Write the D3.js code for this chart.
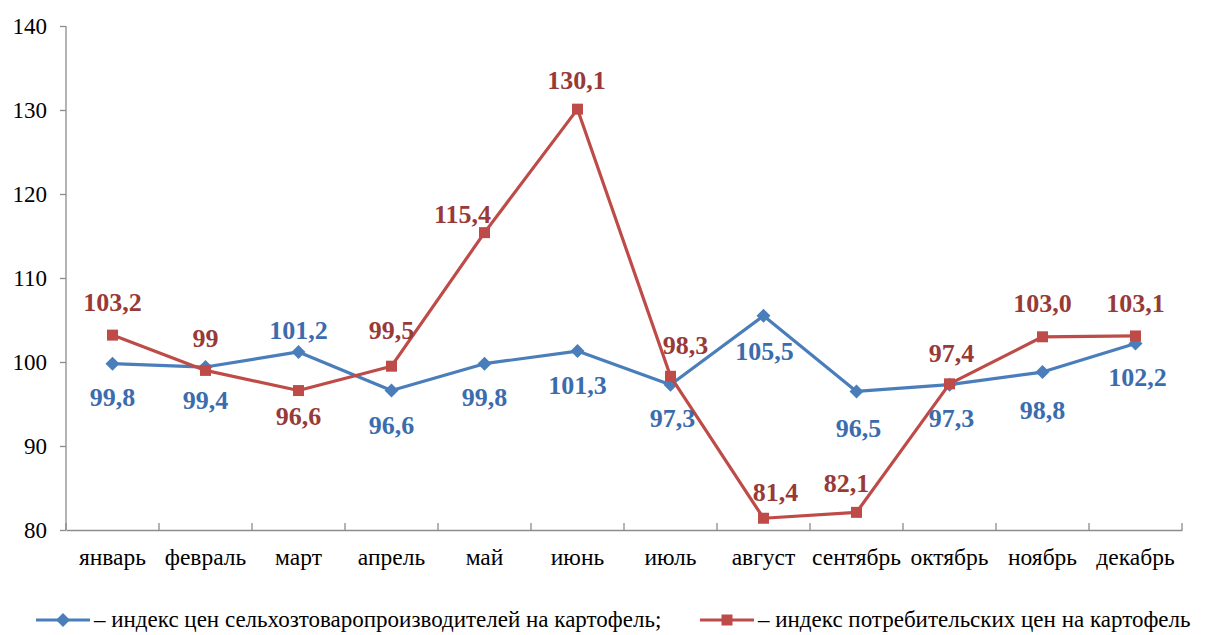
<!DOCTYPE html>
<html><head><meta charset="utf-8">
<script src="https://cdn.jsdelivr.net/npm/d3@7"></script>
</head>
<body style="margin:0;background:#fff">
<svg id="c" width="1209" height="635" font-family="Liberation Serif"></svg>
<script>
const months = ["январь","февраль","март","апрель","май","июнь","июль","август","сентябрь","октябрь","ноябрь","декабрь"];
const producerIndex = [99.8, 99.4, 101.2, 96.6, 99.8, 101.3, 97.3, 105.5, 96.5, 97.3, 98.8, 102.2];
const consumerIndex = [103.2, 99, 96.6, 99.5, 115.4, 130.1, 98.3, 81.4, 82.1, 97.4, 103.0, 103.1];
const producerLabels = ["99,8","99,4","101,2","96,6","99,8","101,3","97,3","105,5","96,5","97,3","98,8","102,2"];
const consumerLabels = ["103,2","99","96,6","99,5","115,4","130,1","98,3","81,4","82,1","97,4","103,0","103,1"];
const yTicks = [80, 90, 100, 110, 120, 130, 140];
const legendNames = ["– индекс цен сельхозтоваропроизводителей на картофель;", "– индекс потребительских цен на картофель"];

// label placement (layout only)
const producerLabelOffset = [[0,33],[0,33],[0,-22],[0,34],[0,33],[0,34],[2,33],[1,35],[2,36],[2,33],[0,38],[2,33]];
const consumerLabelOffset = [[0,-33],[0,-33],[0,25],[0,-36],[-22,-19],[-1,-29],[15,-31],[12,-26],[-10,-29],[2,-31],[0,-34],[0,-33]];

const FONT = "Liberation Serif";
const blue = "#4A7EBB", red = "#BE4B48";
const blueText = "#3B6CAD", redText = "#983A37";
const axisColor = "#8C8C8C";

const svg = d3.select("#c");
const x = d3.scaleBand().domain(months).range([66, 1182]);
const y = d3.scaleLinear().domain([80, 140]).range([530, 26]);
const cx = m => x(m) + x.bandwidth()/2;

const diamond = s => `M0,${-s}L${s},0L0,${s}L${-s},0Z`;
const square = s => `M${-s},${-s}H${s}V${s}H${-s}Z`;

// Y axis
const ya = svg.append("g").attr("transform","translate(66,0)")
  .call(d3.axisLeft(y).tickValues(yTicks).tickSize(6).tickFormat(""));
ya.attr("font-family", null).attr("font-size", null);
ya.select(".domain").attr("stroke", axisColor).attr("stroke-width",1.3).attr("d","M0,26V530");
ya.selectAll(".tick line").attr("stroke", axisColor).attr("stroke-width",1.3);
ya.selectAll(".tick text").remove();
svg.append("g").selectAll("text").data(yTicks).join("text")
  .attr("x", 47).attr("y", d => y(d)).attr("dy","0.35em").attr("text-anchor","end")
  .attr("font-family", FONT).attr("font-size", 23).attr("fill","#000")
  .text(d => d3.format("d")(d));

// X axis
const xa = svg.append("g").attr("transform","translate(0,530)")
  .call(d3.axisBottom(x).tickSize(0).tickFormat(""));
xa.attr("font-family", null).attr("font-size", null);
xa.select(".domain").attr("stroke", axisColor).attr("stroke-width",1.3);
xa.selectAll(".tick text").remove();
svg.append("g").selectAll("text").data(months).join("text")
  .attr("x", d => cx(d)).attr("y", 557).attr("dy","0.35em").attr("text-anchor","middle")
  .attr("font-family", FONT).attr("font-size", 23.5).attr("fill","#000")
  .text(d => d);
const bounds = d3.range(months.length + 1);
svg.append("g").selectAll("line").data(bounds).join("line")
  .attr("x1", i => 66 + i * x.step()).attr("x2", i => 66 + i * x.step())
  .attr("y1", 530).attr("y2", 523)
  .attr("stroke", axisColor).attr("stroke-width",1.3);

const line = d3.line().x((d,i)=>cx(months[i])).y(d=>y(d));

function series(vals, color, shapePath) {
  svg.append("path").datum(vals).attr("d", line).attr("fill","none")
    .attr("stroke", color).attr("stroke-width", 3.2).attr("stroke-linejoin","round");
  svg.append("g").selectAll("path").data(vals).join("path")
    .attr("transform",(d,i)=>`translate(${cx(months[i])},${y(d)})`)
    .attr("d", shapePath)
    .attr("fill", color);
}
series(producerIndex, blue, diamond(7));
series(consumerIndex, red, square(5.5));

function labels(vals, texts, offs, color) {
  svg.append("g").selectAll("text").data(vals).join("text")
    .attr("x",(d,i)=>cx(months[i]) + offs[i][0])
    .attr("y",(d,i)=>y(d) + offs[i][1])
    .attr("dy","0.35em").attr("text-anchor","middle")
    .attr("font-family", FONT).attr("font-size", 26).attr("font-weight","bold")
    .attr("fill", color)
    .text((d,i)=>texts[i]);
}
labels(producerIndex, producerLabels, producerLabelOffset, blueText);
labels(consumerIndex, consumerLabels, consumerLabelOffset, redText);

// Legend
const legendItems = [
  {name: legendNames[0], color: blue, shape: diamond(7), x0: 36},
  {name: legendNames[1], color: red, shape: square(5.5), x0: 700}
];
const lg = svg.append("g").attr("transform","translate(0,620)");
legendItems.forEach(it => {
  lg.append("line").attr("x1", it.x0).attr("x2", it.x0 + 54).attr("y1",0).attr("y2",0)
    .attr("stroke", it.color).attr("stroke-width",3.2);
  lg.append("path").attr("transform",`translate(${it.x0+27},0)`)
    .attr("d", it.shape).attr("fill", it.color);
  lg.append("text").attr("x", it.x0 + 58).attr("y",0).attr("dy","0.3em")
    .attr("font-family", FONT).attr("font-size", 23).attr("fill","#000")
    .text(it.name);
});
</script>
</body></html>
